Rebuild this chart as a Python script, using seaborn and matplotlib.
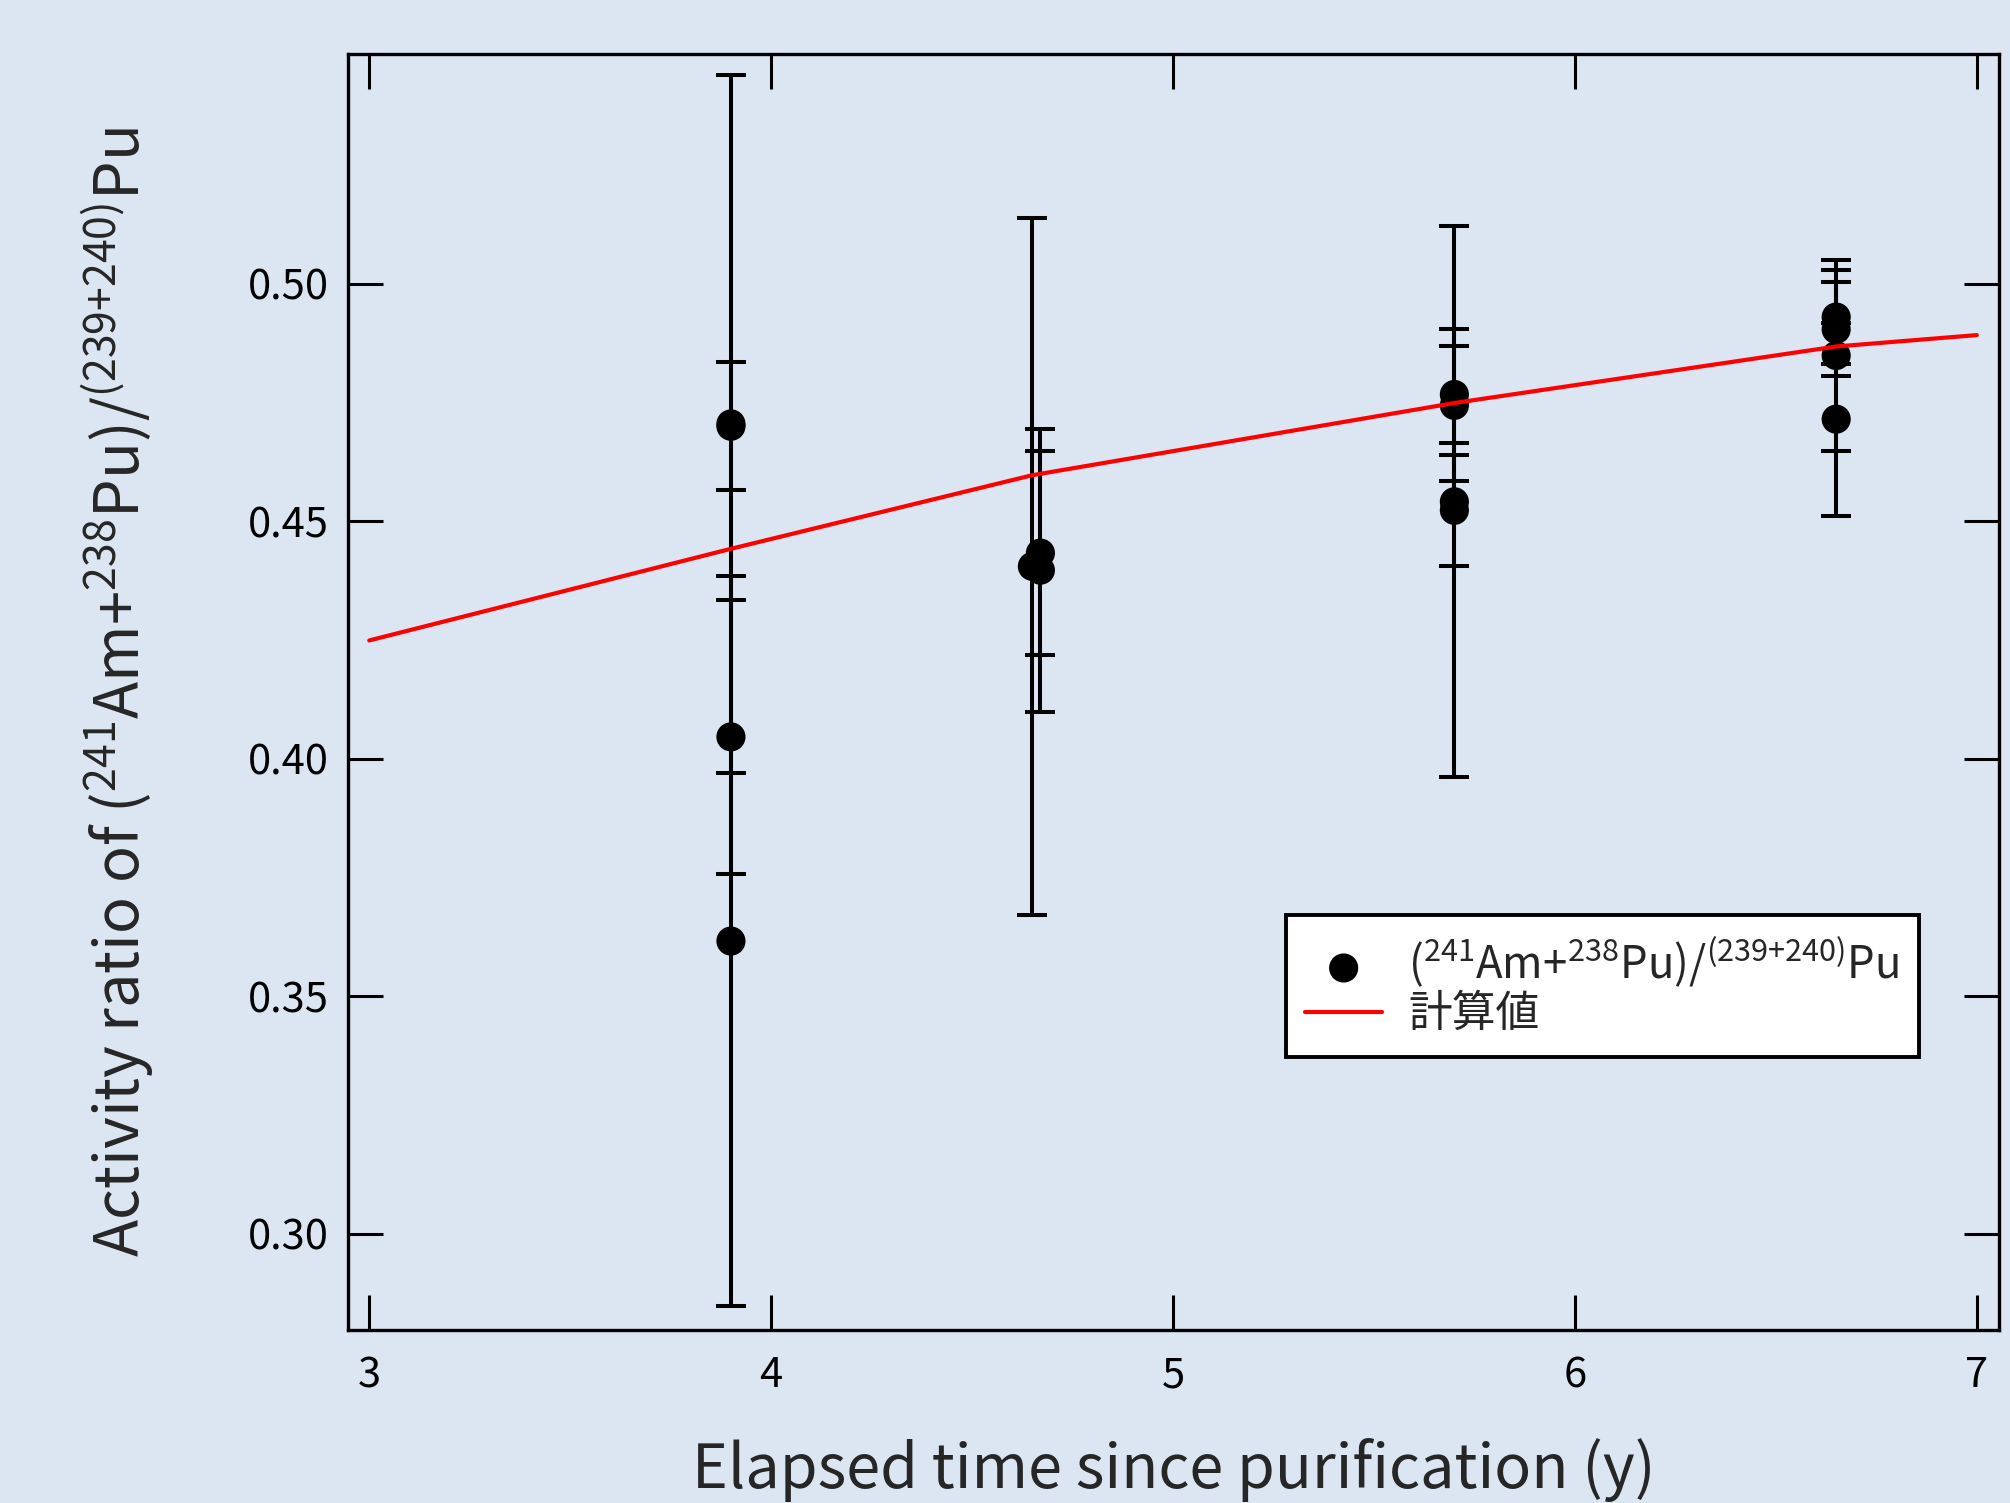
#%% Am-241 ingrowth: activity ratio vs elapsed time
import numpy as np
import pandas as pd
import matplotlib
matplotlib.use('Agg')
import matplotlib.pyplot as plt
import seaborn as sns

#%% Data

# measured points (x in years, ratio, 1-sigma error)
x_meas = [3.90, 3.90, 3.90, 3.90,
          4.65, 4.67, 4.67,
          5.70, 5.70, 5.70, 5.70,
          6.65, 6.65, 6.65, 6.65]
ratio_meas = [0.4705, 0.4700, 0.4046, 0.3616,
              0.4405, 0.4433, 0.4397,
              0.4767, 0.4744, 0.4541, 0.4523,
              0.4930, 0.4904, 0.4849, 0.4715]
err_meas = [0.0735, 0.0135, 0.0288, 0.0769,
            0.0734, 0.0214, 0.0298,
            0.0103, 0.0160, 0.0580, 0.0117,
            0.0099, 0.0099, 0.0201, 0.0203]

# calculated curve
x_calc = [3.0, 3.9, 4.65, 5.7, 6.65, 7.0]
ratio_calc = [0.4249, 0.4442, 0.4597, 0.4749, 0.4868, 0.4892]

xticks = [3, 4, 5, 6, 7]
yticks = [0.30, 0.35, 0.40, 0.45, 0.50]

df_meas = pd.DataFrame({'t': x_meas, 'r': ratio_meas, 'e': err_meas})
df_calc = pd.DataFrame({'t': x_calc, 'r': ratio_calc})

ratio_name = (r'($^{\mathregular{241}}$Am+$^{\mathregular{238}}$Pu)/'
              r'$^{\mathregular{(239{+}240)}}$Pu')

#%% Style
bg = '#dce6f2'
sns.set_theme(style='ticks')
plt.rcParams['font.family'] = ['Noto Sans CJK JP', 'DejaVu Sans']
plt.rcParams['mathtext.fontset'] = 'custom'
plt.rcParams['mathtext.rm'] = 'Noto Sans CJK JP'
plt.rcParams['axes.unicode_minus'] = False

fig = plt.figure(figsize=(20.10, 15.03), dpi=100, facecolor=bg)
ax = fig.add_axes([0.1731, 0.1151, 0.8214, 0.8490])
ax.set_facecolor(bg)

# error bars first, dots on top
ax.errorbar(df_meas['t'], df_meas['r'], yerr=df_meas['e'], fmt='none',
            ecolor='black', elinewidth=2.9, capsize=10.5, capthick=2.9, zorder=2)
sns.scatterplot(data=df_meas, x='t', y='r', ax=ax, color='black', s=440,
                edgecolor='none', zorder=3, label=ratio_name)
sns.lineplot(data=df_calc, x='t', y='r', ax=ax, color='red', linewidth=3.0,
             zorder=4, label='計算値')

ax.set_xlim(2.947, 7.055)
ax.set_ylim(0.2797, 0.5484)
ax.set_xticks(xticks)
ax.set_yticks(yticks)
ax.set_xticklabels([str(v) for v in xticks])
ax.set_yticklabels([f'{v:.2f}' for v in yticks])

for s in ax.spines.values():
    s.set_visible(True)
    s.set_linewidth(2.4)
    s.set_color('black')
ax.tick_params(axis='both', which='major', direction='in', length=25, width=2.2,
               colors='black', labelsize=30, top=True, right=True)
ax.tick_params(axis='x', pad=18)
ax.tick_params(axis='y', pad=14)

ax.set_xlabel('Elapsed time since purification (y)', fontsize=44)
ax.set_ylabel('Activity ratio of ' + ratio_name, fontsize=44)
ax.xaxis.set_label_coords(0.5, -0.085)
ax.yaxis.set_label_coords(-0.116, 0.5)

leg = ax.legend(loc='upper left', bbox_to_anchor=(0.568, 0.325), borderaxespad=0,
                fontsize=31.5, frameon=True, fancybox=False, framealpha=1,
                handlelength=1.75, handletextpad=0.6, labelspacing=0.02,
                borderpad=0.45, markerscale=1.0)
leg.get_frame().set_edgecolor('black')
leg.get_frame().set_linewidth(2.8)
leg.get_frame().set_facecolor('white')

plt.savefig('out.png', dpi=100, facecolor=bg)
